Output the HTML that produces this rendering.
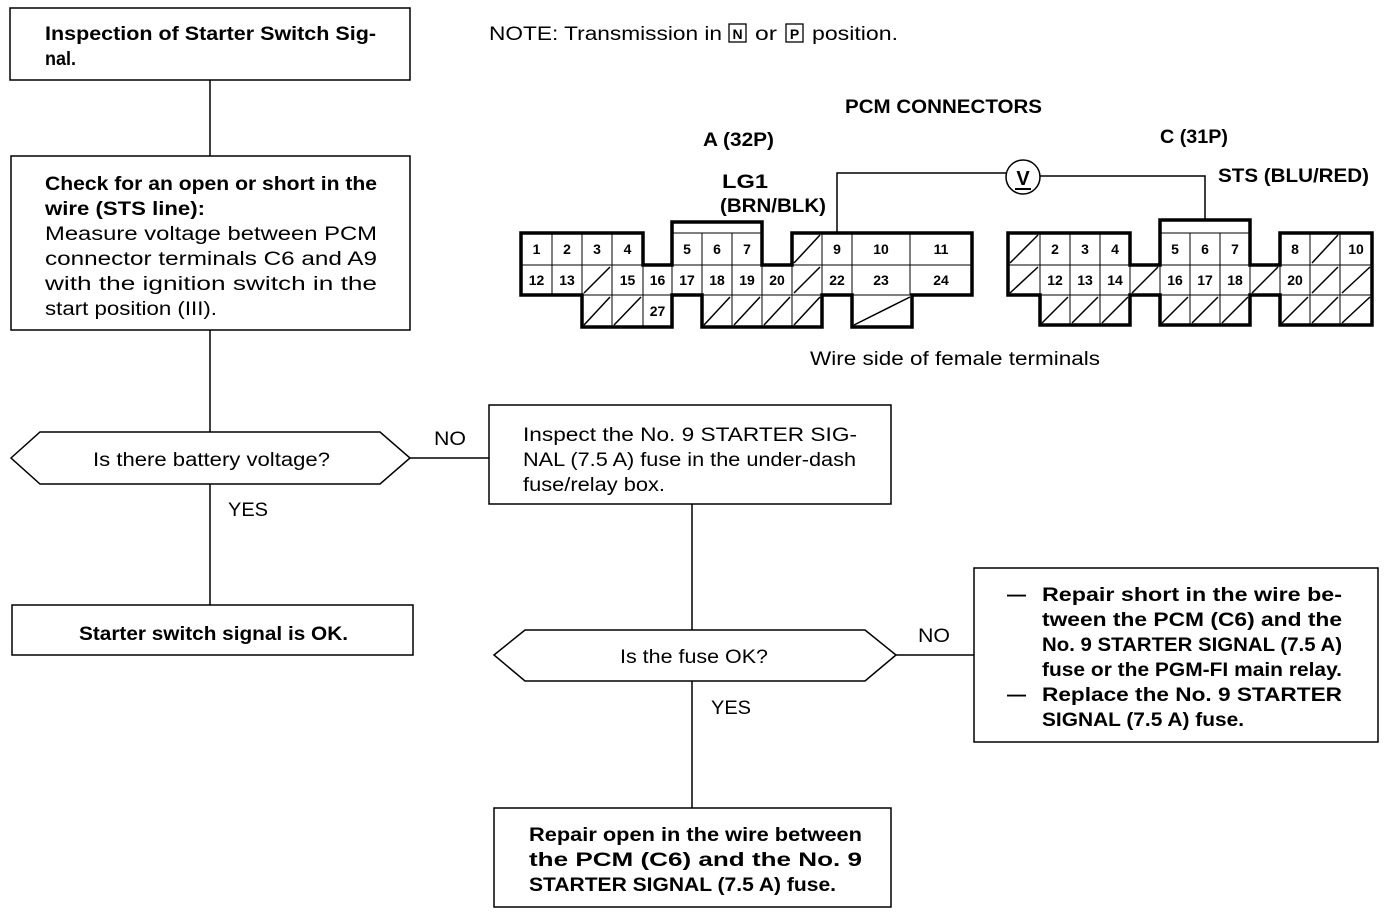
<!DOCTYPE html>
<html><head><meta charset="utf-8"><style>
html,body{margin:0;padding:0;background:#fff;}
svg{display:block;}
text{font-family:"Liberation Sans",sans-serif;fill:#000;}
.b{font-weight:bold;}
.t{font-size:19px;}
.n{font-size:14px;font-weight:bold;text-anchor:middle;}
</style></head><body>
<svg width="1392" height="914" viewBox="0 0 1392 914" xmlns="http://www.w3.org/2000/svg">
<g fill="none" stroke="#000" stroke-width="1.5">
<rect x="10" y="8" width="400" height="72"/>
<rect x="11" y="156" width="399" height="174"/>
<line x1="210" y1="80" x2="210" y2="156"/>
<line x1="210" y1="330" x2="210" y2="432"/>
<polygon points="11,458 40,432 380,432 410,458 380,484 40,484"/>
<line x1="410" y1="458" x2="489" y2="458"/>
<rect x="489" y="405" width="402" height="99"/>
<line x1="210" y1="484" x2="210" y2="605"/>
<rect x="12" y="605" width="401" height="50"/>
<line x1="692" y1="504" x2="692" y2="630"/>
<polygon points="494,655 525,630 865,630 896,655 865,681 525,681"/>
<line x1="896" y1="655" x2="974" y2="655"/>
<rect x="974" y="568" width="404" height="174"/>
<line x1="692" y1="681" x2="692" y2="808"/>
<rect x="494" y="808" width="397" height="99"/>
</g>
<g lengthAdjust="spacingAndGlyphs">
<text class="t b" x="45" y="40" textLength="331" lengthAdjust="spacingAndGlyphs">Inspection of Starter Switch Sig-</text>
<text class="t b" x="45" y="65" textLength="31" lengthAdjust="spacingAndGlyphs">nal.</text>
<text class="t b" x="45" y="190" textLength="332" lengthAdjust="spacingAndGlyphs">Check for an open or short in the</text>
<text class="t b" x="45" y="215" textLength="160" lengthAdjust="spacingAndGlyphs">wire (STS line):</text>
<text class="t" x="45" y="240" textLength="332" lengthAdjust="spacingAndGlyphs">Measure voltage between PCM</text>
<text class="t" x="45" y="265" textLength="332" lengthAdjust="spacingAndGlyphs">connector terminals C6 and A9</text>
<text class="t" x="45" y="290" textLength="332" lengthAdjust="spacingAndGlyphs">with the ignition switch in the</text>
<text class="t" x="45" y="315" textLength="172" lengthAdjust="spacingAndGlyphs">start position (III).</text>
<text class="t" x="93" y="466" textLength="237" lengthAdjust="spacingAndGlyphs">Is there battery voltage?</text>
<text class="t" x="434" y="445" textLength="32" lengthAdjust="spacingAndGlyphs">NO</text>
<text class="t" x="228" y="516" textLength="40" lengthAdjust="spacingAndGlyphs">YES</text>
<text class="t" x="523" y="441" textLength="334" lengthAdjust="spacingAndGlyphs">Inspect the No. 9 STARTER SIG-</text>
<text class="t" x="523" y="466" textLength="333" lengthAdjust="spacingAndGlyphs">NAL (7.5 A) fuse in the under-dash</text>
<text class="t" x="523" y="491" textLength="142" lengthAdjust="spacingAndGlyphs">fuse/relay box.</text>
<text class="t b" x="79" y="640" textLength="269" lengthAdjust="spacingAndGlyphs">Starter switch signal is OK.</text>
<text class="t" x="620" y="663" textLength="148" lengthAdjust="spacingAndGlyphs">Is the fuse OK?</text>
<text class="t" x="918" y="642" textLength="32" lengthAdjust="spacingAndGlyphs">NO</text>
<text class="t" x="711" y="714" textLength="40" lengthAdjust="spacingAndGlyphs">YES</text>
<text class="t b" x="1007" y="601">—</text>
<text class="t b" x="1042" y="601" textLength="300" lengthAdjust="spacingAndGlyphs">Repair short in the wire be-</text>
<text class="t b" x="1042" y="626" textLength="300" lengthAdjust="spacingAndGlyphs">tween the PCM (C6) and the</text>
<text class="t b" x="1042" y="651" textLength="300" lengthAdjust="spacingAndGlyphs">No. 9 STARTER SIGNAL (7.5 A)</text>
<text class="t b" x="1042" y="676" textLength="300" lengthAdjust="spacingAndGlyphs">fuse or the PGM-FI main relay.</text>
<text class="t b" x="1007" y="701">—</text>
<text class="t b" x="1042" y="701" textLength="300" lengthAdjust="spacingAndGlyphs">Replace the No. 9 STARTER</text>
<text class="t b" x="1042" y="726" textLength="202" lengthAdjust="spacingAndGlyphs">SIGNAL (7.5 A) fuse.</text>
<text class="t b" x="529" y="841" textLength="333" lengthAdjust="spacingAndGlyphs">Repair open in the wire between</text>
<text class="t b" x="529" y="866" textLength="333" lengthAdjust="spacingAndGlyphs">the PCM (C6) and the No. 9</text>
<text class="t b" x="529" y="891" textLength="307" lengthAdjust="spacingAndGlyphs">STARTER SIGNAL (7.5 A) fuse.</text>

<text class="t" x="489" y="40" textLength="233" lengthAdjust="spacingAndGlyphs">NOTE:  Transmission in</text>
<rect x="729" y="24" width="17" height="18" fill="none" stroke="#000" stroke-width="1.3"/>
<text x="737.5" y="39" font-size="14" font-weight="bold" text-anchor="middle">N</text>
<text class="t" x="755" y="40" textLength="22" lengthAdjust="spacingAndGlyphs">or</text>
<rect x="786" y="24" width="17" height="18" fill="none" stroke="#000" stroke-width="1.3"/>
<text x="794.5" y="39" font-size="14" font-weight="bold" text-anchor="middle">P</text>
<text class="t" x="812" y="40" textLength="86" lengthAdjust="spacingAndGlyphs">position.</text>
<text class="t b" x="845" y="113" textLength="197" lengthAdjust="spacingAndGlyphs">PCM CONNECTORS</text>
<text class="t b" x="703" y="146" textLength="71" lengthAdjust="spacingAndGlyphs">A (32P)</text>
<text class="t b" x="1160" y="143" textLength="68" lengthAdjust="spacingAndGlyphs">C (31P)</text>
<text class="t b" x="722" y="188" textLength="46" lengthAdjust="spacingAndGlyphs">LG1</text>
<text class="t b" x="720" y="212" textLength="106" lengthAdjust="spacingAndGlyphs">(BRN/BLK)</text>
<text class="t b" x="1218" y="182" textLength="151" lengthAdjust="spacingAndGlyphs">STS (BLU/RED)</text>
<text class="t" x="810" y="365" textLength="290" lengthAdjust="spacingAndGlyphs">Wire side of female terminals</text>
</g>

<g stroke="#000" stroke-width="1.5" fill="none">
<polyline points="837,233 837,173 1006,173"/>
<polyline points="1040,176 1205,176 1205,220"/>
<circle cx="1023" cy="177" r="17"/>
</g>
<text x="1023" y="185" font-size="20" font-weight="bold" text-anchor="middle">V</text>
<line x1="1015" y1="189" x2="1031" y2="189" stroke="#000" stroke-width="2"/>

<g id="cells" stroke="#000" stroke-width="1" fill="none"></g>
<g id="nums"></g>
<g stroke="#000" stroke-width="3.5" fill="none" stroke-linejoin="miter">
<polygon points="521,233 643,233 643,265 672,265 672,222 762,222 762,265 792,265 792,233 972,233 972,295 912,295 912,327 852,327 852,295 822,295 822,327 702,327 702,295 672,295 672,327 582,327 582,295 521,295"/>
<polygon points="1008,233 1130,233 1130,265 1160,265 1160,220 1250,220 1250,265 1280,265 1280,233 1372,233 1372,325 1280,325 1280,295 1250,295 1250,325 1160,325 1160,295 1130,295 1130,325 1040,325 1040,295 1008,295"/>
</g>
<script>
(function(){
var NS="http://www.w3.org/2000/svg";
var cg=document.getElementById('cells'), ng=document.getElementById('nums');
function cell(x1,x2,y1,y2,l){
 var r=document.createElementNS(NS,'rect');
 r.setAttribute('x',x1);r.setAttribute('y',y1);r.setAttribute('width',x2-x1);r.setAttribute('height',y2-y1);
 cg.appendChild(r);
 if(l==='/'){var d=document.createElementNS(NS,'line');
  d.setAttribute('x1',x1+2);d.setAttribute('y1',y2-2);d.setAttribute('x2',x2-2);d.setAttribute('y2',y1+2);
  d.setAttribute('stroke-width','1.5');cg.appendChild(d);}
 else{var t=document.createElementNS(NS,'text');t.setAttribute('class','n');
  t.setAttribute('x',(x1+x2)/2);t.setAttribute('y',(y1+y2)/2+5);t.textContent=l;ng.appendChild(t);}
}
var A1=233,A2=265,A3=295,A4=327;
[[521,552,'1'],[552,582,'2'],[582,612,'3'],[612,643,'4'],[672,702,'5'],[702,732,'6'],[732,762,'7'],[792,822,'/'],[822,852,'9'],[852,910,'10'],[910,972,'11']].forEach(function(c){cell(c[0],c[1],A1,A2,c[2]);});
[[521,552,'12'],[552,582,'13'],[582,612,'/'],[612,643,'15'],[643,672,'16'],[672,702,'17'],[702,732,'18'],[732,762,'19'],[762,792,'20'],[792,822,'/'],[822,852,'22'],[852,910,'23'],[910,972,'24']].forEach(function(c){cell(c[0],c[1],A2,A3,c[2]);});
[[582,612,'/'],[612,643,'/'],[643,672,'27'],[702,732,'/'],[732,762,'/'],[762,792,'/'],[792,822,'/'],[852,912,'/']].forEach(function(c){cell(c[0],c[1],A3,A4,c[2]);});
var C4=325;
[[1008,1040,'/'],[1040,1070,'2'],[1070,1100,'3'],[1100,1130,'4'],[1160,1190,'5'],[1190,1220,'6'],[1220,1250,'7'],[1280,1310,'8'],[1310,1340,'/'],[1340,1372,'10']].forEach(function(c){cell(c[0],c[1],A1,A2,c[2]);});
[[1008,1040,'/'],[1040,1070,'12'],[1070,1100,'13'],[1100,1130,'14'],[1130,1160,'/'],[1160,1190,'16'],[1190,1220,'17'],[1220,1250,'18'],[1250,1280,'/'],[1280,1310,'20'],[1310,1340,'/'],[1340,1372,'/']].forEach(function(c){cell(c[0],c[1],A2,A3,c[2]);});
[[1040,1070],[1070,1100],[1100,1130],[1160,1190],[1190,1220],[1220,1250],[1280,1310],[1310,1340],[1340,1372]].forEach(function(c){cell(c[0],c[1],A3,C4,'/');});
})();
</script>
</svg>
</body></html>
